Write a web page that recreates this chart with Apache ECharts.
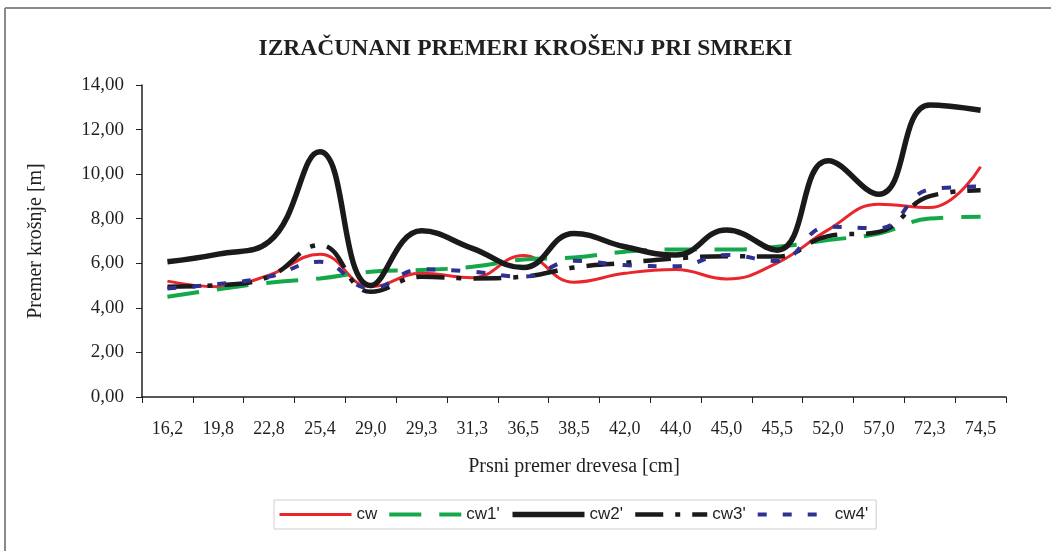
<!DOCTYPE html>
<html>
<head>
<meta charset="utf-8">
<script src="https://cdn.jsdelivr.net/npm/echarts@6/dist/echarts.min.js"></script>
<style>
html,body{margin:0;padding:0;background:#fff;}
#chart{width:1051px;height:551px;}
</style>
</head>
<body>
<div id="chart"></div>
<script>
const categories = ['16,2','19,8','22,8','25,4','29,0','29,3','31,3','36,5','38,5','42,0','44,0','45,0','45,5','52,0','57,0','72,3','74,5'];
const cw  = [5.20, 4.95, 5.47, 6.40, 4.95, 5.55, 5.35, 6.35, 5.15, 5.55, 5.72, 5.30, 6.02, 7.50, 8.65, 8.50, 10.33];
const cw1 = [4.50, 4.83, 5.13, 5.32, 5.62, 5.70, 5.84, 6.17, 6.26, 6.52, 6.62, 6.62, 6.74, 7.04, 7.34, 8.01, 8.09];
const cw2 = [6.07, 6.41, 6.97, 11.00, 5.00, 7.46, 6.67, 5.81, 7.34, 6.74, 6.37, 7.49, 6.59, 10.60, 9.10, 13.10, 12.87];
const cw3 = [4.95, 5.02, 5.40, 6.82, 4.72, 5.40, 5.32, 5.40, 5.81, 6.02, 6.22, 6.32, 6.30, 7.22, 7.41, 9.01, 9.28];
const cw4 = [4.87, 5.07, 5.40, 6.07, 4.87, 5.73, 5.62, 5.40, 6.11, 5.92, 5.87, 6.37, 6.10, 7.64, 7.57, 9.31, 9.45];
const seriesNames = ['cw', "cw1'", "cw2'", "cw3'", "cw4'"];
const yTicks = {min: 0, max: 14, interval: 2};

const chart = echarts.init(document.getElementById('chart'));
const serif = '"Liberation Serif", "Times New Roman", serif';
const txt = '#231f20';
const styles = [
  {color: '#e8262b', width: 3, type: 'solid'},
  {color: '#14a84b', width: 4, type: [32, 18]},
  {color: '#1a1a1a', width: 5.5, type: 'solid'},
  {color: '#1a1a1a', width: 4.5, type: [28, 12, 5, 12]},
  {color: '#2e3192', width: 4, type: [9, 16]}
];
const seriesData = [cw, cw1, cw2, cw3, cw4];
const series = seriesNames.map((n, i) => ({
  name: n, type: 'line', data: seriesData[i], smooth: 0.45,
  symbol: 'none', showSymbol: false,
  lineStyle: {color: styles[i].color, width: styles[i].width, type: styles[i].type, cap: 'butt'},
  itemStyle: {color: styles[i].color}
}));
const legendData = seriesNames.map((n, i) => ({
  name: n,
  itemStyle: {opacity: 0},
  lineStyle: {color: styles[i].color, width: styles[i].width, type: styles[i].type, cap: 'butt'}
}));
chart.setOption({
  backgroundColor: '#fff',
  animation: false,
  title: {
    text: 'IZRAČUNANI PREMERI KROŠENJ PRI SMREKI',
    left: 'center', top: 32,
    textStyle: {fontFamily: serif, fontWeight: 'bold', fontSize: 23.5, color: txt}
  },
  graphic: [
    {type: 'line', shape: {x1: 5, y1: 8, x2: 1051, y2: 8}, style: {stroke: '#8a8a8a', lineWidth: 2}},
    {type: 'line', shape: {x1: 5, y1: 8, x2: 5, y2: 551}, style: {stroke: '#8a8a8a', lineWidth: 2}}
  ],
  legend: {
    left: 274, top: 500,
    itemWidth: 72, itemHeight: 14, itemGap: 10,
    padding: [6, 8, 6, 4],
    borderColor: '#cfcfcf', borderWidth: 1,
    itemStyle: {opacity: 0},
    textStyle: {fontFamily: '"Liberation Sans", Arial, sans-serif', fontSize: 17, color: txt, padding: [6,0,0,0]},
    data: legendData
  },
  grid: {left: 142, right: 45, top: 85, bottom: 154, containLabel: false},
  xAxis: {
    type: 'category', data: categories, boundaryGap: true,
    name: 'Prsni premer drevesa [cm]', nameLocation: 'middle', nameGap: 60,
    nameTextStyle: {fontFamily: serif, fontSize: 20, color: txt},
    axisLine: {lineStyle: {color: '#231f20', width: 1.5}},
    axisTick: {show: true, length: 6, lineStyle: {color: '#231f20'}},
    axisLabel: {fontFamily: serif, fontSize: 18, color: txt, margin: 23, interval: 0},
    splitLine: {show: false}
  },
  yAxis: {
    type: 'value', min: yTicks.min, max: yTicks.max, interval: yTicks.interval,
    name: 'Premer krošnje [m]', nameLocation: 'middle', nameGap: 96, nameRotate: 90,
    nameTextStyle: {fontFamily: serif, fontSize: 20, color: txt},
    axisLine: {show: true, lineStyle: {color: '#231f20', width: 1.5}},
    axisTick: {show: true, length: 6, lineStyle: {color: '#231f20'}},
    axisLabel: {fontFamily: serif, fontSize: 19, color: txt, margin: 18,
      formatter: v => v.toFixed(2).replace('.', ',')},
    splitLine: {show: false}
  },
  series: series
});
</script>
</body>
</html>
